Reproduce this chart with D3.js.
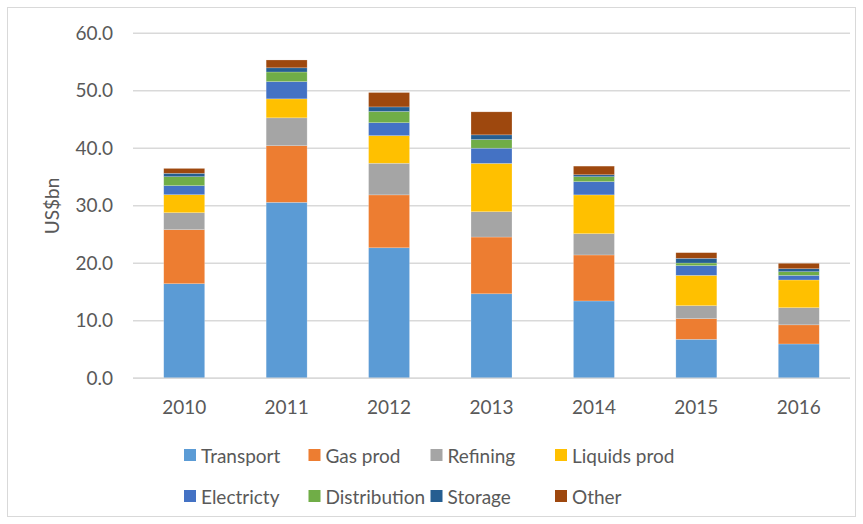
<!DOCTYPE html>
<html>
<head>
<meta charset="utf-8">
<script src="https://cdn.jsdelivr.net/npm/d3@7"></script>
<style>
  html, body { margin: 0; padding: 0; background: #fff; }
  svg { display: block; }
  text { font-family: Lato, "Open Sans", sans-serif; fill: #595959; }
</style>
</head>
<body>
<svg id="chart" width="863" height="524"></svg>
<script>
// Investment by segment, US$bn
const years = ["2010", "2011", "2012", "2013", "2014", "2015", "2016"];
const seriesNames = ["Transport", "Gas prod", "Refining", "Liquids prod",
                     "Electricty", "Distribution", "Storage", "Other"];
const transport    = [16.45, 30.6, 22.7, 14.7, 13.45, 6.78, 5.97];
const gasProd      = [9.4, 9.85, 9.2, 9.87, 8.0, 3.59, 3.33];
const refining     = [2.95, 4.85, 5.5, 4.4, 3.7, 2.26, 2.98];
const liquidsProd  = [3.13, 3.3, 4.8, 8.4, 6.75, 5.27, 4.82];
const electricity  = [1.57, 3.0, 2.25, 2.65, 2.3, 1.7, 0.8];
const distribution = [1.56, 1.67, 1.95, 1.5, 0.86, 0.45, 0.64];
const storage      = [0.59, 0.73, 0.8, 0.82, 0.34, 0.82, 0.52];
const other        = [0.85, 1.36, 2.5, 4.0, 1.5, 0.98, 0.94];
const yTicks = [0, 10, 20, 30, 40, 50, 60];

const colors = ["#5B9BD5", "#ED7D31", "#A5A5A5", "#FFC000",
                "#4472C4", "#70AD47", "#255E91", "#9E480E"];
const valueArrays = [transport, gasProd, refining, liquidsProd,
                     electricity, distribution, storage, other];

const rows = years.map((yr, i) => {
  const r = { year: yr };
  seriesNames.forEach((s, k) => { r[s] = valueArrays[k][i]; });
  return r;
});

const svg = d3.select("#chart");

// outer chart frame
svg.append("rect")
  .attr("x", 7.5).attr("y", 7.5)
  .attr("width", 848).attr("height", 509)
  .attr("fill", "none").attr("stroke", "#d9d9d9").attr("stroke-width", 1);

const plot = { left: 133, right: 850, top: 33.3, bottom: 378.3 };

const x = d3.scaleBand()
  .domain(years)
  .range([plot.left, plot.right])
  .paddingInner(0.6)
  .paddingOuter(0.3);

const y = d3.scaleLinear()
  .domain([0, 60])
  .range([plot.bottom, plot.top]);

// horizontal gridlines
svg.append("g")
  .selectAll("line")
  .data(yTicks)
  .join("line")
  .attr("x1", plot.left).attr("x2", plot.right)
  .attr("y1", d => y(d)).attr("y2", d => y(d))
  .attr("stroke", "#d9d9d9").attr("stroke-width", 1.5);

// y axis labels
const yAxis = d3.axisLeft(y)
  .tickValues(yTicks)
  .tickFormat(d3.format(".1f"))
  .tickSize(0)
  .tickPadding(20);
const yg = svg.append("g")
  .attr("transform", `translate(${plot.left},0)`)
  .call(yAxis);
yg.select(".domain").remove();
yg.selectAll("text")
  .style("font-family", "Lato, 'Open Sans', sans-serif")
  .style("font-size", "19px")
  .attr("fill", "#595959");

// stacked bars
const stack = d3.stack().keys(seriesNames);
const stacked = stack(rows);

svg.append("g")
  .selectAll("g")
  .data(stacked)
  .join("g")
  .attr("fill", (d, i) => colors[i])
  .selectAll("rect")
  .data(d => d)
  .join("rect")
  .attr("x", d => x(d.data.year))
  .attr("width", x.bandwidth())
  .attr("y", d => y(d[1]))
  .attr("height", d => y(d[0]) - y(d[1]))
  .attr("stroke", "rgba(255,255,255,0.35)")
  .attr("stroke-width", 0.6);

// x axis
const xAxis = d3.axisBottom(x).tickSize(0).tickPadding(22);
const xg = svg.append("g")
  .attr("transform", `translate(0,${plot.bottom})`)
  .call(xAxis);
xg.select(".domain")
  .attr("stroke", "#d9d9d9").attr("stroke-width", 1.5)
  .attr("d", `M${plot.left},0H${plot.right}`);
xg.selectAll("text")
  .style("font-family", "Lato, 'Open Sans', sans-serif")
  .style("font-size", "19px")
  .attr("fill", "#595959");

// y axis title
svg.append("text")
  .attr("transform", `translate(54,206) rotate(-90)`)
  .attr("text-anchor", "middle")
  .attr("dominant-baseline", "middle")
  .style("font-size", "19px")
  .text("US$bn");

// legend: two rows of four
const legendCols = [184, 308.5, 430.5, 555];
const legendRows = [455, 496];
const legend = svg.append("g")
  .selectAll("g")
  .data(seriesNames)
  .join("g")
  .attr("transform", (d, i) =>
    `translate(${legendCols[i % 4]},${legendRows[Math.floor(i / 4)]})`);
legend.append("rect")
  .attr("x", 0).attr("y", -6)
  .attr("width", 12).attr("height", 12)
  .attr("fill", (d, i) => colors[i]);
legend.append("text")
  .attr("x", 17).attr("y", 0)
  .attr("dominant-baseline", "central")
  .style("font-size", "19px")
  .text(d => d);
</script>
</body>
</html>
